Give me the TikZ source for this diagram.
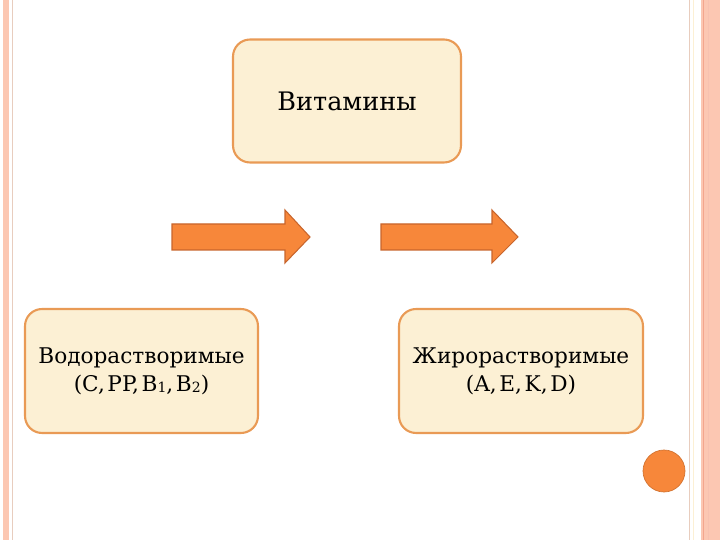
\documentclass[tikz,border=0pt]{standalone}
\usepackage{fontspec}
\setmainfont{DejaVu Serif}
\usetikzlibrary{positioning}

\definecolor{boxfill}{HTML}{FCF0D4}
\definecolor{boxline}{HTML}{E99A55}
\definecolor{arrfill}{HTML}{F7873A}
\definecolor{arrline}{HTML}{C8652C}
\definecolor{band}{HTML}{FCC7B2}
\definecolor{bandline}{HTML}{F3A68E}
\definecolor{thinline}{HTML}{E8CDBE}

\newcommand{\sub}[1]{\raisebox{-0.15ex}{\footnotesize #1}}
\newcommand{\cm}{,\kern0.12em}

\begin{document}
\begin{tikzpicture}[x=0.02cm, y=-0.02cm,
    vbox/.style={draw=boxline, line width=1.2pt, fill=boxfill, rounded corners=0.34cm,
                 align=center, font=\fontsize{12.3}{16}\selectfont},
    blockarrow/.style={draw=arrline, line width=0.6pt, fill=arrfill}]
            \useasboundingbox (0,0) rectangle (720,540);
            % Page borders
            \fill[band] (3,0) rectangle (9,540);
            \draw[thinline, line width=0.6pt] (12.5,0) -- (12.5,540);
            \draw[thinline, line width=0.8pt] (689.5,0) -- (689.5,540);
            \draw[boxfill, line width=0.8pt] (693.5,0) -- (693.5,540);
            \fill[band] (701,0) rectangle (720,540);
            \draw[bandline, line width=0.8pt] (703.5,0) -- (703.5,540);
            \draw[bandline!70, line width=0.6pt] (708.5,0) -- (708.5,540);

            % Boxes
            \node[vbox, minimum width=4.56cm, minimum height=2.46cm,
                  font=\fontsize{14.5}{18}\selectfont] (vit) at (347,101) {Витамины};
            \node[vbox, minimum width=4.66cm, minimum height=2.48cm] (water) at (141.5,371)
                {Водорастворимые\\(C\cm PP\cm B\sub{1}\cm B\sub{2})};
            \node[vbox, minimum width=4.88cm, minimum height=2.48cm] (fat) at (521,371)
                {Жирорастворимые\\(A\cm E\cm K\cm D)};

            % Block arrows
            \draw[blockarrow] (172,224) -- (285,224) -- (285,210) -- (310,237)
                -- (285,263) -- (285,250) -- (172,250) -- cycle;
            \draw[blockarrow] (381,224) -- (492,224) -- (492,210) -- (518,237)
                -- (492,263) -- (492,250) -- (381,250) -- cycle;

            % Dot
            \node[circle, fill=arrfill, draw=arrfill!85!black, line width=0.4pt,
                  minimum size=0.84cm, inner sep=0pt] (dot) at (664,471) {};
        \end{tikzpicture}
\end{document}
